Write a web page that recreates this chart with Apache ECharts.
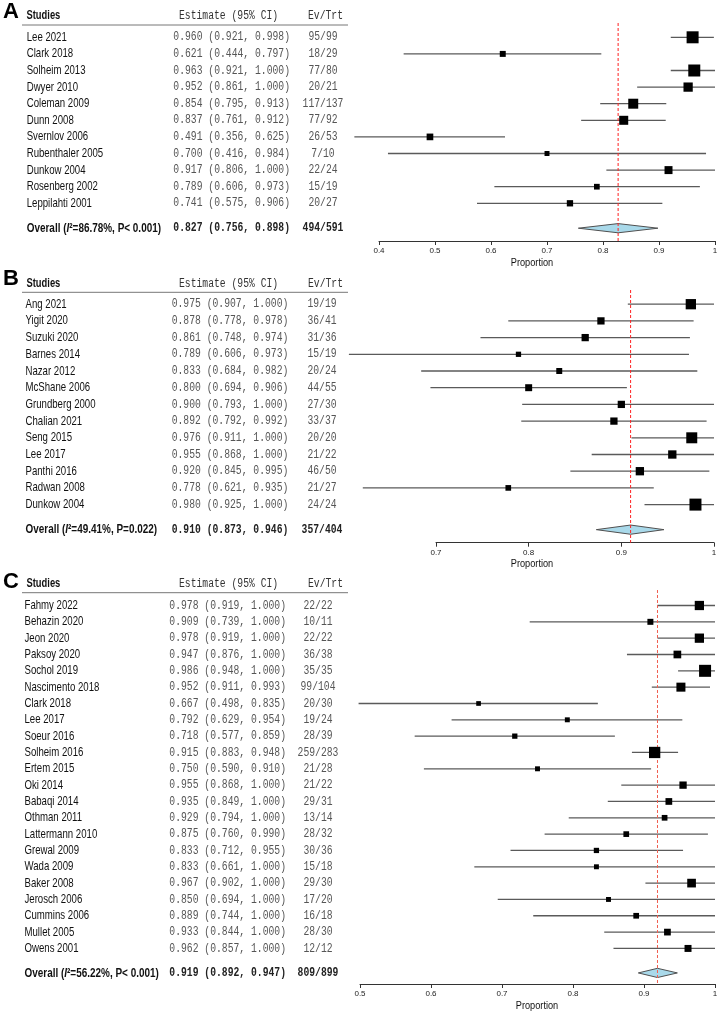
<!DOCTYPE html>
<html><head><meta charset="utf-8">
<script src="https://cdn.jsdelivr.net/npm/echarts@6/dist/echarts.min.js"></script>
<style>html,body{margin:0;padding:0;background:#fff}#c{width:720px;height:1017px}</style>
</head><body><div id="c"></div>
<script>
// ---------- Panel A ----------
const studiesA = ['Lee 2021','Clark 2018','Solheim 2013','Dwyer 2010','Coleman 2009','Dunn 2008','Svernlov 2006','Rubenthaler 2005','Dunkow 2004','Rosenberg 2002','Leppilahti 2001'];
const estA = [0.960,0.621,0.963,0.952,0.854,0.837,0.491,0.700,0.917,0.789,0.741];
const loA  = [0.921,0.444,0.921,0.861,0.795,0.761,0.356,0.416,0.806,0.606,0.575];
const hiA  = [0.998,0.797,1.000,1.000,0.913,0.912,0.625,0.984,1.000,0.973,0.906];
const evA  = [95,18,77,20,117,77,26,7,22,15,20];
const totA = [99,29,80,21,137,92,53,10,24,19,27];
const weightA = [18.1,4.5,18.1,10.8,12.5,10.2,5.6,3.1,8.0,4.1,5.0];
const overallA = [0.827,0.756,0.898];
const overallEvA = [494,591];
const hetA = ['86.78%','P< 0.001'];
const axisA = [0.4,1.0];

// ---------- Panel B ----------
const studiesB = ['Ang 2021','Yigit 2020','Suzuki 2020','Barnes 2014','Nazar 2012','McShane 2006','Grundberg 2000','Chalian 2021','Seng 2015','Lee 2017','Panthi 2016','Radwan 2008','Dunkow 2004'];
const estB = [0.975,0.878,0.861,0.789,0.833,0.800,0.900,0.892,0.976,0.955,0.920,0.778,0.980];
const loB  = [0.907,0.778,0.748,0.606,0.684,0.694,0.793,0.792,0.911,0.868,0.845,0.621,0.925];
const hiB  = [1.000,0.978,0.974,0.973,0.982,0.906,1.000,0.992,1.000,1.000,0.995,0.935,1.000];
const evB  = [19,36,31,15,20,44,27,33,20,21,46,21,24];
const totB = [19,41,36,19,24,55,30,37,20,22,50,27,24];
const weightB = [12.2,6.1,6.1,3.2,4.1,5.6,6.1,6.1,13.9,8.0,8.0,3.7,16.6];
const overallB = [0.910,0.873,0.946];
const overallEvB = [357,404];
const hetB = ['49.41%','P=0.022'];
const axisB = [0.7,1.0];

// ---------- Panel C ----------
const studiesC = ['Fahmy 2022','Behazin 2020','Jeon 2020','Paksoy 2020','Sochol 2019','Nascimento 2018','Clark 2018','Lee 2017','Soeur 2016','Solheim 2016','Ertem 2015','Oki 2014','Babaqi 2014','Othman 2011','Lattermann 2010','Grewal 2009','Wada 2009','Baker 2008','Jerosch 2006','Cummins 2006','Mullet 2005','Owens 2001'];
const estC = [0.978,0.909,0.978,0.947,0.986,0.952,0.667,0.792,0.718,0.915,0.750,0.955,0.935,0.929,0.875,0.833,0.833,0.967,0.850,0.889,0.933,0.962];
const loC  = [0.919,0.739,0.919,0.876,0.948,0.911,0.498,0.629,0.577,0.883,0.590,0.868,0.849,0.794,0.760,0.712,0.661,0.902,0.694,0.744,0.844,0.857];
const hiC  = [1.000,1.000,1.000,1.000,1.000,0.993,0.835,0.954,0.859,0.948,0.910,1.000,1.000,1.000,0.990,0.955,1.000,1.000,1.000,1.000,1.000,1.000];
const evC  = [22,10,22,36,35,99,20,19,28,259,21,21,29,13,28,30,15,29,17,16,28,12];
const totC = [22,11,22,38,35,104,30,24,39,283,28,22,31,14,32,36,18,30,20,18,30,12];
const weightC = [7.4,3.1,7.4,5.1,12.4,7.0,1.9,2.1,2.4,11.0,2.1,4.6,3.9,2.8,2.8,2.4,2.1,6.5,2.1,2.8,3.9,4.2];
const overallC = [0.919,0.892,0.947];
const overallEvC = [809,899];
const hetC = ['56.22%','P< 0.001'];
const axisC = [0.5,1.0];

const panelLetters = ['A','B','C'];
const headerLabels = ['Studies','Estimate (95% CI)','Ev/Trt'];
const xAxisTitle = 'Proportion';

const panels = [
  {studies:studiesA, est:estA, lo:loA, hi:hiA, ev:evA, tot:totA, w:weightA, overall:overallA, oev:overallEvA, het:hetA, axis:axisA},
  {studies:studiesB, est:estB, lo:loB, hi:hiB, ev:evB, tot:totB, w:weightB, overall:overallB, oev:overallEvB, het:hetB, axis:axisB},
  {studies:studiesC, est:estC, lo:loC, hi:hiC, ev:evC, tot:totC, w:weightC, overall:overallC, oev:overallEvC, het:hetC, axis:axisC}
];

// ---------- layout (pixels) ----------
const layouts = [
  {r0:37.3, step:16.6, lineTop:23, axisY:241, left:379, right:715, headY:16, ulY:25, labY:12, nameX:26.7, estX:173.3, evX:323, propX:532},
  {r0:304.2, step:16.7, lineTop:290, axisY:542.7, left:436, right:714, headY:284, ulY:292.3, labY:279, nameX:25.5, estX:171.7, evX:322, propX:532},
  {r0:605.5, step:16.33, lineTop:590, axisY:984, left:360, right:715, headY:584, ulY:592.7, labY:582, nameX:24.5, estX:169.3, evX:318, propX:537}
];

const SANS = '"Liberation Sans", Arial, sans-serif';
const MONO = '"Liberation Mono", "Courier New", monospace';
const FONT_NAME = '13px ' + SANS, SX_NAME = 0.74;
const FONT_NAME_B = 'bold 13px ' + SANS, FONT_NAME_BI = 'italic bold 13px ' + SANS, SX_NAME_B = 0.765;
const FONT_MONO = '12px ' + MONO, FONT_MONO_B = 'bold 12px ' + MONO, SX_MONO = 0.81;
const MAX_SQ = 12;

const fmt = v => v.toFixed(3);
function txt(x, y, text, font, fill, align, sx, extra) {
  const st = Object.assign({text, font, fill, align, textAlign: align, verticalAlign: 'middle', textVerticalAlign: 'middle'}, extra || {});
  return {type: 'text', x, y, scaleX: sx, style: st};
}

const grids = [], xAxes = [], yAxes = [], series = [], graphics = [];

panels.forEach((P, k) => {
  const L = layouts[k];
  const n = P.studies.length;
  const yMin = (L.lineTop - L.r0) / L.step;
  const yMax = (L.axisY - L.r0) / L.step;
  const oIdx = n + 0.5;
  const wmax = Math.max(...P.w);
  const x0 = P.axis[0];

  grids.push({left: L.left, top: L.lineTop, width: L.right - L.left, height: L.axisY - L.lineTop, containLabel: false, outerBoundsMode: 'none'});
  xAxes.push({
    type: 'value', gridIndex: k, min: P.axis[0], max: P.axis[1], interval: 0.1, position: 'bottom',
    axisLine: {show: true, onZero: false, lineStyle: {color: '#333', width: 1}},
    axisTick: {show: true, inside: false, length: 4, lineStyle: {color: '#333', width: 1}},
    axisLabel: {show: true, fontSize: 8, fontFamily: SANS, color: '#222', margin: 6,
      formatter: v => String(Math.round(v * 10) / 10)},
    splitLine: {show: false}
  });
  yAxes.push({type: 'value', gridIndex: k, min: yMin, max: yMax, inverse: true, show: false});

  // study rows text
  series.push({
    type: 'custom', xAxisIndex: k, yAxisIndex: k, z: 5, silent: true, clip: false,
    data: P.studies.map((s, i) => [x0, i]),
    renderItem: (params, api) => {
      const i = params.dataIndex;
      const y = api.coord([x0, i])[1];
      return {type: 'group', children: [
        txt(L.nameX, y, P.studies[i], FONT_NAME, '#111', 'left', SX_NAME),
        txt(L.estX, y, fmt(P.est[i]) + ' (' + fmt(P.lo[i]) + ', ' + fmt(P.hi[i]) + ')', FONT_MONO, '#555', 'left', SX_MONO),
        txt(L.evX, y, P.ev[i] + '/' + P.tot[i], FONT_MONO, '#555', 'center', SX_MONO)
      ]};
    }
  });
  // overall row text
  series.push({
    type: 'custom', xAxisIndex: k, yAxisIndex: k, z: 5, silent: true, clip: false,
    data: [[x0, oIdx]],
    renderItem: (params, api) => {
      const y = api.coord([x0, oIdx])[1];
      return {type: 'group', children: [
        {type: 'text', x: L.nameX, y, scaleX: SX_NAME_B, style: {
          text: '{b|Overall (}{i|I}{b|²=' + P.het[0] + ', ' + P.het[1] + ')}',
          align: 'left', textAlign: 'left', verticalAlign: 'middle', textVerticalAlign: 'middle',
          rich: {b: {font: FONT_NAME_B, fill: '#111'}, i: {font: FONT_NAME_BI, fill: '#111'}}
        }},
        txt(L.estX, y, fmt(P.overall[0]) + ' (' + fmt(P.overall[1]) + ', ' + fmt(P.overall[2]) + ')', FONT_MONO_B, '#222', 'left', SX_MONO),
        txt(L.evX, y, P.oev[0] + '/' + P.oev[1], FONT_MONO_B, '#222', 'center', SX_MONO)
      ]};
    }
  });
  // CI lines
  series.push({
    type: 'custom', xAxisIndex: k, yAxisIndex: k, z: 2, silent: true, clip: false,
    data: P.est.map((e, i) => [e, i, P.lo[i], P.hi[i]]),
    renderItem: (params, api) => {
      const i = params.dataIndex;
      const a = api.coord([P.lo[i], i]), b = api.coord([P.hi[i], i]);
      return {type: 'line', shape: {x1: a[0], y1: a[1], x2: b[0], y2: b[1]}, style: {stroke: '#5a5a5a', lineWidth: 1.3}};
    }
  });
  // diamond
  series.push({
    type: 'custom', xAxisIndex: k, yAxisIndex: k, z: 2, silent: true, clip: false,
    data: [[P.overall[0], oIdx]],
    renderItem: (params, api) => {
      const c = api.coord([P.overall[0], oIdx]);
      const l = api.coord([P.overall[1], oIdx]), r = api.coord([P.overall[2], oIdx]);
      const h = 4.6;
      return {type: 'polygon', shape: {points: [[l[0], c[1]], [c[0], c[1] - h], [r[0], c[1]], [c[0], c[1] + h]]},
        style: {fill: '#a9d9ea', stroke: '#505050', lineWidth: 1}};
    }
  });
  // red dashed overall line
  series.push({
    type: 'custom', xAxisIndex: k, yAxisIndex: k, z: 3, silent: true, clip: false,
    data: [[P.overall[0], yMin]],
    renderItem: (params, api) => {
      const a = api.coord([P.overall[0], yMin]), b = api.coord([P.overall[0], yMax]);
      return {type: 'line', shape: {x1: a[0], y1: a[1], x2: b[0], y2: b[1]},
        style: {stroke: k === 2 ? '#f06050' : '#ff2020', lineWidth: 1, lineDash: [3, 2]}};
    }
  });
  // squares
  series.push({
    type: 'custom', xAxisIndex: k, yAxisIndex: k, z: 4, silent: true, clip: false,
    data: P.est.map((e, i) => [e, i, P.w[i]]),
    renderItem: (params, api) => {
      const i = params.dataIndex;
      const c = api.coord([P.est[i], i]);
      const s = MAX_SQ * Math.sqrt(P.w[i] / wmax);
      return {type: 'rect', shape: {x: c[0] - s / 2, y: c[1] - s / 2, width: s, height: s}, style: {fill: '#000'}};
    }
  });

  // static decorations
  graphics.push({type: 'text', x: 3, y: L.labY, style: {text: panelLetters[k], font: 'bold 22px ' + SANS, fill: '#000', textAlign: 'left', align: 'left', textVerticalAlign: 'middle', verticalAlign: 'middle'}});
  graphics.push({type: 'text', x: 26.5, y: L.headY, scaleX: 0.78, style: {text: headerLabels[0], font: 'bold 12px ' + SANS, fill: '#111', textAlign: 'left', align: 'left', textVerticalAlign: 'middle', verticalAlign: 'middle'}});
  graphics.push({type: 'text', x: 179, y: L.headY, scaleX: SX_MONO, style: {text: headerLabels[1], font: FONT_MONO, fill: '#333', textAlign: 'left', align: 'left', textVerticalAlign: 'middle', verticalAlign: 'middle'}});
  graphics.push({type: 'text', x: 308, y: L.headY, scaleX: SX_MONO, style: {text: headerLabels[2], font: FONT_MONO, fill: '#333', textAlign: 'left', align: 'left', textVerticalAlign: 'middle', verticalAlign: 'middle'}});
  graphics.push({type: 'line', shape: {x1: 22, y1: L.ulY, x2: 348, y2: L.ulY}, style: {stroke: '#777', lineWidth: 1}});
  graphics.push({type: 'text', x: L.propX, y: L.axisY + 22, scaleX: 0.92, style: {text: xAxisTitle, font: '10px ' + SANS, fill: '#111', textAlign: 'center', align: 'center', textVerticalAlign: 'middle', verticalAlign: 'middle'}});
});

const chart = echarts.init(document.getElementById('c'), null, {renderer: 'canvas'});
chart.setOption({
  animation: false,
  backgroundColor: '#fff',
  grid: grids, xAxis: xAxes, yAxis: yAxes, series: series, graphic: graphics
});
</script></body></html>
